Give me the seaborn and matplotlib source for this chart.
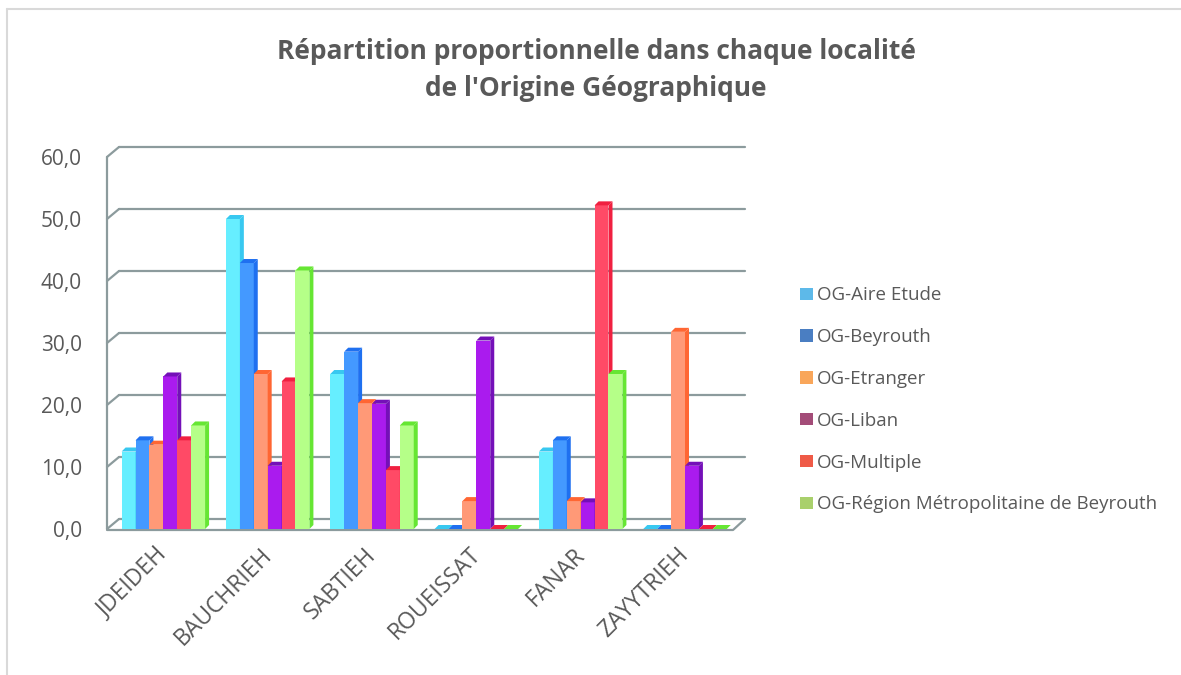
import numpy as np
import pandas as pd
import matplotlib
matplotlib.use("Agg")
import matplotlib.pyplot as plt
from matplotlib.lines import Line2D
from matplotlib.patches import Polygon, Patch
from matplotlib.transforms import ScaledTranslation
import seaborn as sns

# Localités et origines géographiques
localites = ["JDEIDEH", "BAUCHRIEH", "SABTIEH", "ROUEISSAT", "FANAR", "ZAYYTRIEH"]
origines = ["OG-Aire Etude", "OG-Beyrouth", "OG-Etranger", "OG-Liban",
            "OG-Multiple", "OG-Région Métropolitaine de Beyrouth"]

# Pourcentages par origine (une valeur par localité)
og_aire_etude = [12.5, 50.0, 25.0, 0.0, 12.5, 0.0]
og_beyrouth = [14.3, 42.9, 28.6, 0.0, 14.3, 0.0]
og_etranger = [13.6, 25.0, 20.3, 4.5, 4.5, 31.8]
og_liban = [24.6, 10.2, 20.2, 30.4, 4.3, 10.2]
og_multiple = [14.3, 23.8, 9.5, 0.0, 52.2, 0.0]
og_region = [16.7, 41.7, 16.7, 0.0, 25.0, 0.0]

series = [og_aire_etude, og_beyrouth, og_etranger, og_liban, og_multiple, og_region]
yticks = [0, 10, 20, 30, 40, 50, 60]

df = pd.DataFrame({
    "Localité": np.tile(localites, len(origines)),
    "Origine": np.repeat(origines, len(localites)),
    "Valeur": np.concatenate(series),
})

front_colors = ["#66EEFF", "#4499FF", "#FF9977", "#AA1BEE", "#FF4A66", "#B5FF88"]
side_colors = ["#38C8F0", "#1F70F0", "#FF6633", "#7410B8", "#F02040", "#66E633"]
legend_colors = ["#5DB9E9", "#4A7EC2", "#F9A65A", "#A34C78", "#EF5A47", "#A9D06C"]
text_color = "#595959"
grid_color = "#8C9B9D"

sns.set_theme(style="white")
plt.rcParams["font.family"] = ["Open Sans", "DejaVu Sans"]

W, H = 1181, 675
fig = plt.figure(figsize=(W / 100, H / 100), dpi=100)
fig.patch.set_facecolor("white")

# Plot area in pixel coordinates (front plane)
px_left, px_right, px_top, px_bottom = 107, 733, 157, 529
ax = fig.add_axes([px_left / W, 1 - px_bottom / H,
                   (px_right - px_left) / W, (px_bottom - px_top) / H])
ax.set_facecolor("none")

sns.barplot(data=df, x="Localité", y="Valeur", hue="Origine", hue_order=origines,
            order=localites, palette=front_colors, saturation=1, width=0.8,
            dodge=True, legend=False, ax=ax, linewidth=0)

ax.set_xlim(-0.54, 5.46)
ax.set_ylim(0, 60)
for s in ax.spines.values():
    s.set_visible(False)
ax.set_xlabel("")
ax.set_ylabel("")
ax.set_yticks(yticks)
ax.set_yticklabels([f"{v:.1f}".replace(".", ",") for v in yticks],
                   fontsize=15, color=text_color)
ax.tick_params(axis="y", length=0, pad=18)
ax.tick_params(axis="x", length=0, pad=10)
shift = ScaledTranslation(-8 / 100, 0, fig.dpi_scale_trans)
for lab in ax.get_xticklabels():
    lab.set_rotation(45)
    lab.set_ha("right")
    lab.set_rotation_mode("anchor")
    lab.set_fontsize(16.5)
    lab.set_color(text_color)
    lab.set_transform(lab.get_transform() + shift)

# Depth of the back wall and of each bar, in pixels
wall_dx, wall_dy = 12, 10
bar_d = 4
to_disp = ax.transData.transform


def pix_line(xs, ys, **kw):
    fig.add_artist(Line2D(xs, ys, transform=None, **kw))


# Back-wall gridlines with their diagonal connectors on the side wall
x0d, _ = to_disp((-0.54, 0))
x1d, _ = to_disp((5.46, 0))
for v in yticks:
    _, yd = to_disp((0, v))
    pix_line([x0d + wall_dx, x1d + wall_dx], [yd + wall_dy, yd + wall_dy],
             color=grid_color, lw=1.6, zorder=0.5)
    pix_line([x0d, x0d + wall_dx], [yd, yd + wall_dy], color=grid_color, lw=1.6, zorder=0.5)

# Side wall vertical edge and floor outline
_, y0d = to_disp((0, 0))
_, y60d = to_disp((0, 60))
pix_line([x0d, x0d], [y0d, y60d], color=grid_color, lw=1.6, zorder=0.5)
pix_line([x0d, x1d, x1d + wall_dx], [y0d - 1, y0d - 1, y0d + wall_dy],
         color=grid_color, lw=1.6, zorder=0.5)

# 3D side and top faces for every bar
for k, cont in enumerate(ax.containers):
    for bar in cont:
        bx, by = bar.get_x(), bar.get_y()
        bw, bh = bar.get_width(), bar.get_height()
        (xa, ya), (xb, yb) = to_disp((bx, by)), to_disp((bx + bw, by + bh))
        z = 2 + k * 0.1
        side = [(xb, ya), (xb, yb), (xb + bar_d, yb + bar_d), (xb + bar_d, ya + bar_d)]
        top = [(xa, yb), (xb, yb), (xb + bar_d, yb + bar_d), (xa + bar_d, yb + bar_d)]
        fig.add_artist(Polygon(side, closed=True, transform=None, facecolor=side_colors[k],
                               edgecolor="none", zorder=z + 0.05))
        fig.add_artist(Polygon(top, closed=True, transform=None, facecolor=side_colors[k],
                               edgecolor="none", zorder=z + 0.05))
        # front face stacked at figure level so neighbouring bars overlap properly
        fig.add_artist(Polygon([(xa, ya), (xb, ya), (xb, yb), (xa, yb)], closed=True,
                               transform=None, facecolor=front_colors[k],
                               edgecolor="none", zorder=z))

# Title
fig.text(596 / W, 1 - 70 / H,
         "Répartition proportionnelle dans chaque localité\nde l'Origine Géographique",
         ha="center", va="center", fontsize=19, fontweight="bold",
         color=text_color, linespacing=1.45)

# Legend
handles = [Patch(facecolor=c, edgecolor="none") for c in legend_colors]
fig.legend(handles, origines, loc="upper left", bbox_to_anchor=(791 / W, 1 - 277 / H),
           frameon=False, fontsize=13.5, labelcolor=text_color, handlelength=0.65,
           handleheight=0.65, handletextpad=0.25, labelspacing=1.27, borderpad=0)

# Chart frame (left and top edges)
pix_line([7, 7], [0, H - 9], color="#D9D9D9", lw=1.5)
pix_line([7, W], [H - 9, H - 9], color="#D9D9D9", lw=1.5)

fig.savefig("out.png", dpi=100, facecolor="white")
